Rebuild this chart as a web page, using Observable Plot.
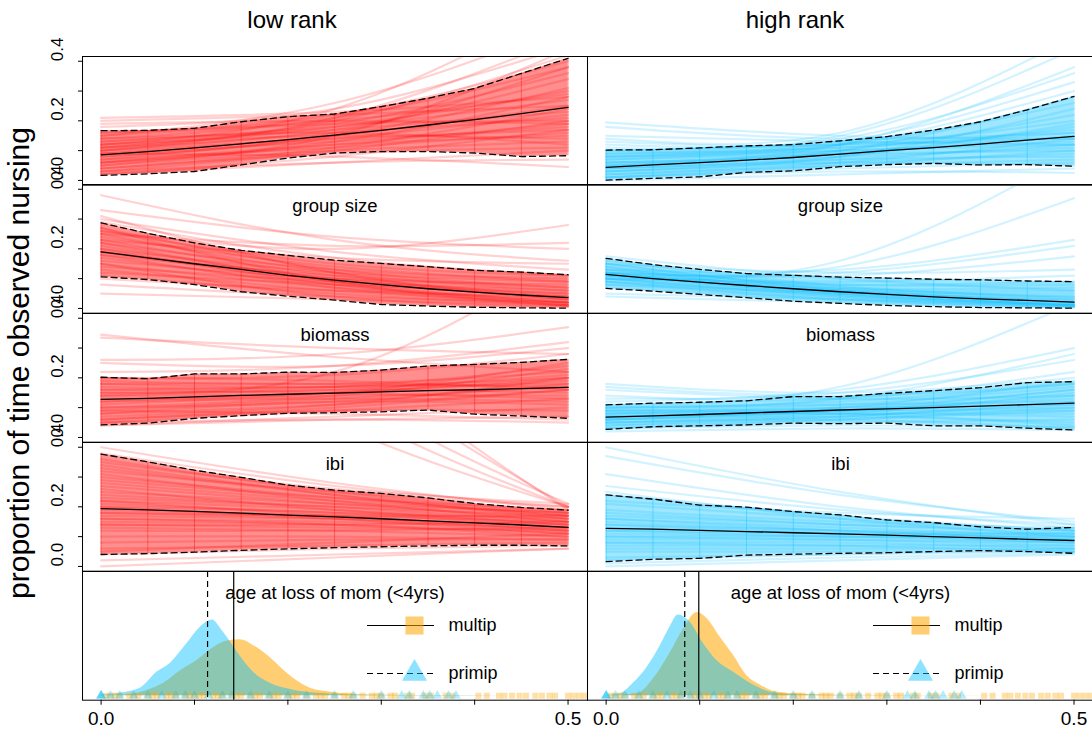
<!DOCTYPE html>
<html>
<head>
<meta charset="utf-8">
<script src="https://cdn.jsdelivr.net/npm/d3@7"></script>
<script src="https://cdn.jsdelivr.net/npm/@observablehq/plot@0.6"></script>
<style>
  html, body { margin: 0; padding: 0; background: #fff; }
  #fig { position: relative; width: 1092px; height: 738px; overflow: hidden; background: #fff;
         font-family: "Liberation Sans", Arial, Helvetica, sans-serif; }
</style>
</head>
<body>
<div id="fig"></div>
<script>
// ---------------------------------------------------------------------------
// Data: posterior predictions of the proportion of time observed nursing.
// Each sample is a posterior draw evaluated at x = 0, 0.25, 0.5; mean and
// 95% interval are evaluated on an 11-point grid.
// ---------------------------------------------------------------------------
const RANKS = ["low rank", "high rank"];
const PREDICTORS = [null, "group size", "biomass", "ibi"];
const SAMPLE_X = [0, 0.25, 0.5];
const GRID_X = [0, 0.05, 0.1, 0.15, 0.2, 0.25, 0.3, 0.35, 0.4, 0.45, 0.5];
const Y_TICKS = [0, 0.1, 0.2, 0.3, 0.4];
const Y_TICK_LABELS = [0, 0.2, 0.4];
const X_TICKS = [0, 0.1, 0.2, 0.3, 0.4, 0.5];
const X_TICK_LABELS = [0, 0.5];

// baseline (no predictor label)
const lowBaseMean = [0.086, 0.097, 0.109, 0.123, 0.137, 0.152, 0.168, 0.186, 0.204, 0.224, 0.245];
const lowBaseLo = [0.017, 0.022, 0.030, 0.052, 0.075, 0.092, 0.097, 0.097, 0.092, 0.080, 0.083];
const lowBaseHi = [0.167, 0.168, 0.175, 0.197, 0.214, 0.223, 0.248, 0.276, 0.309, 0.359, 0.410];
const lowBaseSamples = [
  [0.03,0.10,0.20],[0.04,0.11,0.24],[0.05,0.12,0.19],[0.06,0.13,0.28],[0.07,0.14,0.22],[0.08,0.15,0.31],
  [0.09,0.15,0.25],[0.10,0.16,0.21],[0.11,0.17,0.34],[0.12,0.17,0.23],[0.13,0.18,0.27],[0.14,0.19,0.36],
  [0.15,0.19,0.20],[0.16,0.20,0.29],[0.05,0.10,0.13],[0.07,0.11,0.16],[0.09,0.13,0.18],[0.06,0.12,0.15],
  [0.10,0.14,0.17],[0.12,0.15,0.14],[0.08,0.16,0.38],[0.11,0.18,0.30],[0.04,0.09,0.11],[0.13,0.16,0.12],
  [0.20,0.22,0.25],[0.21,0.23,0.28],[0.19,0.20,0.19],[0.18,0.24,0.45],[0.15,0.26,0.52],[0.12,0.24,0.60],
  [0.10,0.21,0.48],[0.02,0.06,0.10],[0.02,0.08,0.17],[0.09,0.08,0.045],[0.03,0.06,0.07],[0.16,0.22,0.40],
  [0.06,0.15,0.44],[0.14,0.21,0.38],[0.11,0.20,0.42]
];
const highBaseMean = [0.044, 0.052, 0.060, 0.068, 0.077, 0.088, 0.100, 0.110, 0.122, 0.135, 0.148];
const highBaseLo = [0.001, 0.007, 0.012, 0.027, 0.032, 0.046, 0.053, 0.057, 0.052, 0.053, 0.048];
const highBaseHi = [0.102, 0.103, 0.109, 0.116, 0.120, 0.133, 0.147, 0.169, 0.197, 0.237, 0.282];
const highBaseSamples = [
  [0.01,0.05,0.10],[0.02,0.06,0.14],[0.03,0.07,0.12],[0.04,0.08,0.19],[0.05,0.09,0.15],[0.06,0.10,0.22],
  [0.07,0.10,0.13],[0.08,0.11,0.17],[0.09,0.12,0.26],[0.10,0.12,0.14],[0.02,0.05,0.07],[0.03,0.06,0.09],
  [0.04,0.07,0.08],[0.05,0.08,0.11],[0.06,0.09,0.18],[0.07,0.09,0.10],[0.03,0.08,0.24],[0.08,0.10,0.12],
  [0.01,0.04,0.06],[0.05,0.10,0.28],[0.09,0.11,0.16],[0.04,0.06,0.05],
  [0.195,0.15,0.14],[0.18,0.14,0.16],[0.15,0.13,0.12],[0.13,0.12,0.20],[0.11,0.15,0.44],[0.12,0.14,0.36],
  [0.10,0.13,0.33],[0.08,0.12,0.30],[0.0,0.02,0.04],[0.01,0.03,0.025],[0.14,0.16,0.48],[0.06,0.12,0.38]
];

// group size
const lowGroupMean = [0.190, 0.170, 0.150, 0.131, 0.111, 0.095, 0.080, 0.066, 0.055, 0.045, 0.036];
const lowGroupLo = [0.106, 0.097, 0.080, 0.056, 0.041, 0.028, 0.013, 0.008, 0.004, 0.002, 0.001];
const lowGroupHi = [0.287, 0.252, 0.220, 0.195, 0.178, 0.162, 0.151, 0.140, 0.128, 0.122, 0.113];
const lowGroupSamples = [
  [0.11,0.05,0.01],[0.13,0.06,0.02],[0.15,0.07,0.03],[0.17,0.08,0.02],[0.19,0.09,0.04],[0.21,0.10,0.05],
  [0.23,0.11,0.04],[0.25,0.12,0.06],[0.27,0.13,0.07],[0.14,0.09,0.06],[0.16,0.10,0.08],[0.18,0.11,0.07],
  [0.20,0.12,0.09],[0.22,0.13,0.10],[0.24,0.14,0.09],[0.12,0.08,0.05],[0.18,0.07,0.01],[0.20,0.08,0.015],
  [0.22,0.09,0.02],[0.15,0.04,0.005],[0.26,0.15,0.11],[0.19,0.10,0.03],
  [0.38,0.23,0.16],[0.33,0.24,0.20],[0.30,0.19,0.13],[0.26,0.20,0.28],[0.25,0.21,0.22],[0.29,0.17,0.11],
  [0.05,0.03,0.01],[0.08,0.04,0.02],[0.10,0.06,0.04],[0.23,0.17,0.15],[0.31,0.12,0.03],[0.27,0.09,0.01]
];
const highGroupMean = [0.114, 0.100, 0.088, 0.077, 0.066, 0.056, 0.047, 0.039, 0.032, 0.027, 0.021];
const highGroupLo = [0.067, 0.058, 0.047, 0.036, 0.024, 0.017, 0.010, 0.006, 0.003, 0.002, 0.001];
const highGroupHi = [0.168, 0.147, 0.131, 0.117, 0.111, 0.105, 0.102, 0.098, 0.096, 0.092, 0.090];
const highGroupSamples = [
  [0.07,0.03,0.005],[0.08,0.035,0.01],[0.09,0.04,0.015],[0.10,0.045,0.02],[0.11,0.05,0.01],[0.12,0.055,0.025],
  [0.13,0.06,0.03],[0.14,0.065,0.02],[0.15,0.07,0.04],[0.16,0.075,0.035],[0.09,0.055,0.04],[0.10,0.06,0.05],
  [0.11,0.065,0.06],[0.12,0.07,0.07],[0.13,0.08,0.08],[0.08,0.05,0.03],[0.10,0.04,0.008],[0.12,0.045,0.012],
  [0.14,0.05,0.015],[0.11,0.08,0.09],[0.09,0.03,0.005],[0.15,0.06,0.01],
  [0.12,0.14,0.37],[0.10,0.16,0.52],[0.11,0.12,0.21],[0.13,0.13,0.23],[0.12,0.11,0.175],[0.15,0.12,0.13],
  [0.175,0.10,0.06],[0.04,0.02,0.003],[0.05,0.03,0.01],[0.10,0.09,0.11]
];

// biomass
const lowBiomassMean = [0.128, 0.131, 0.136, 0.141, 0.145, 0.149, 0.153, 0.157, 0.160, 0.164, 0.168];
const lowBiomassLo = [0.042, 0.048, 0.064, 0.073, 0.081, 0.083, 0.086, 0.092, 0.078, 0.072, 0.064];
const lowBiomassHi = [0.202, 0.197, 0.213, 0.213, 0.219, 0.218, 0.226, 0.240, 0.245, 0.252, 0.262];
const lowBiomassSamples = [
  [0.05,0.09,0.13],[0.06,0.10,0.16],[0.07,0.11,0.20],[0.08,0.12,0.11],[0.09,0.13,0.17],[0.10,0.14,0.23],
  [0.11,0.14,0.14],[0.12,0.15,0.19],[0.13,0.15,0.25],[0.14,0.16,0.15],[0.15,0.16,0.21],[0.16,0.17,0.18],
  [0.17,0.17,0.24],[0.18,0.18,0.17],[0.19,0.18,0.22],[0.20,0.19,0.16],[0.12,0.13,0.12],[0.14,0.15,0.20],
  [0.10,0.12,0.18],[0.16,0.15,0.13],[0.08,0.11,0.16],[0.18,0.17,0.20],[0.06,0.09,0.09],
  [0.345,0.27,0.22],[0.335,0.30,0.28],[0.26,0.28,0.37],[0.25,0.24,0.30],[0.15,0.22,0.60],[0.04,0.06,0.07],
  [0.04,0.07,0.10],[0.22,0.24,0.32],[0.20,0.21,0.28],[0.09,0.08,0.06],[0.05,0.06,0.05]
];
const highBiomassMean = [0.068, 0.072, 0.077, 0.082, 0.087, 0.092, 0.096, 0.100, 0.105, 0.110, 0.115];
const highBiomassLo = [0.027, 0.036, 0.039, 0.042, 0.048, 0.046, 0.048, 0.039, 0.039, 0.031, 0.025];
const highBiomassHi = [0.109, 0.115, 0.118, 0.123, 0.137, 0.137, 0.148, 0.157, 0.167, 0.184, 0.187];
const highBiomassSamples = [
  [0.03,0.05,0.06],[0.04,0.06,0.09],[0.05,0.07,0.12],[0.06,0.08,0.08],[0.07,0.09,0.14],[0.08,0.10,0.11],
  [0.09,0.10,0.16],[0.10,0.11,0.12],[0.05,0.08,0.15],[0.06,0.09,0.13],[0.07,0.08,0.07],[0.08,0.09,0.10],
  [0.04,0.07,0.11],[0.09,0.11,0.17],[0.10,0.12,0.18],[0.06,0.07,0.05],[0.03,0.06,0.10],[0.07,0.10,0.19],
  [0.08,0.08,0.04],[0.05,0.06,0.03],[0.09,0.09,0.09],[0.06,0.09,0.16],
  [0.18,0.15,0.20],[0.17,0.14,0.18],[0.16,0.13,0.14],[0.12,0.16,0.30],[0.11,0.17,0.45],[0.13,0.15,0.26],
  [0.10,0.13,0.28],[0.02,0.03,0.025],[0.14,0.13,0.22],[0.03,0.04,0.035]
];

// inter-birth interval
const lowIbiMean = [0.194, 0.190, 0.185, 0.179, 0.172, 0.166, 0.160, 0.153, 0.146, 0.139, 0.131];
const lowIbiLo = [0.040, 0.043, 0.048, 0.054, 0.059, 0.063, 0.066, 0.069, 0.071, 0.071, 0.069];
const lowIbiHi = [0.377, 0.351, 0.323, 0.299, 0.273, 0.256, 0.245, 0.230, 0.211, 0.198, 0.189];
const lowIbiSamples = [
  [0.13,0.12,0.10],[0.14,0.13,0.12],[0.15,0.14,0.11],[0.16,0.15,0.13],[0.17,0.16,0.14],[0.18,0.16,0.12],
  [0.19,0.17,0.15],[0.20,0.18,0.13],[0.21,0.18,0.16],[0.22,0.19,0.14],[0.23,0.20,0.17],[0.24,0.20,0.15],
  [0.25,0.21,0.18],[0.12,0.12,0.13],[0.14,0.14,0.15],[0.16,0.14,0.10],[0.18,0.17,0.17],[0.20,0.16,0.11],
  [0.22,0.17,0.12],[0.10,0.10,0.09],[0.08,0.09,0.09],[0.27,0.21,0.16],[0.30,0.23,0.17],[0.33,0.24,0.17],
  [0.06,0.07,0.08],
  [0.40,0.28,0.19],[0.38,0.27,0.20],[0.36,0.25,0.18],[0.35,0.26,0.21],[0.31,0.22,0.15],[0.29,0.23,0.19],
  [0.34,0.24,0.16],[0.32,0.25,0.20],[0.28,0.22,0.18],[0.26,0.19,0.14],
  [0.04,0.06,0.07],[0.02,0.04,0.06],[0.00,0.03,0.06],[0.05,0.08,0.11],
  [0.9,0.48,0.20],[1.1,0.55,0.20],[1.3,0.62,0.21],[1.5,0.72,0.20],[1.8,0.80,0.19]
];
const highIbiMean = [0.128, 0.125, 0.121, 0.117, 0.113, 0.109, 0.105, 0.100, 0.096, 0.091, 0.087];
const highIbiLo = [0.016, 0.024, 0.027, 0.038, 0.041, 0.044, 0.046, 0.050, 0.053, 0.050, 0.044];
const highIbiHi = [0.240, 0.226, 0.206, 0.199, 0.184, 0.173, 0.156, 0.147, 0.133, 0.125, 0.131];
const highIbiSamples = [
  [0.05,0.05,0.05],[0.06,0.06,0.06],[0.07,0.07,0.07],[0.08,0.08,0.06],[0.09,0.09,0.08],[0.10,0.09,0.07],
  [0.11,0.10,0.09],[0.12,0.10,0.08],[0.13,0.11,0.10],[0.14,0.12,0.09],[0.15,0.12,0.11],[0.16,0.13,0.10],
  [0.17,0.14,0.12],[0.18,0.14,0.11],[0.19,0.15,0.13],[0.12,0.11,0.11],[0.10,0.10,0.10],[0.14,0.11,0.08],
  [0.08,0.07,0.05],[0.16,0.12,0.09],[0.21,0.16,0.12],[0.03,0.04,0.05],
  [0.40,0.25,0.14],[0.37,0.24,0.15],[0.31,0.20,0.13],[0.27,0.19,0.14],[0.24,0.17,0.12],[0.22,0.18,0.16],
  [0.01,0.03,0.045],[0.0,0.02,0.04],[0.02,0.04,0.06],[0.25,0.16,0.10]
];

// age at loss of mom (<4yrs): posterior densities [x, density]
const lowMultipDensity = [[0,0.02],[0.031,0.1],[0.05,0.45],[0.067,1.0],[0.085,2.0],[0.103,2.85],[0.121,3.9],
  [0.135,4.4],[0.149,4.5],[0.163,4.05],[0.178,3.25],[0.192,2.3],[0.206,1.4],[0.224,0.6],[0.249,0.25],
  [0.281,0.05],[0.33,0.02],[0.52,0.0]];
const lowPrimipDensity = [[0,0.05],[0.02,0.2],[0.042,0.6],[0.06,1.9],[0.074,2.6],[0.092,4.2],[0.106,5.5],
  [0.119,6.1],[0.131,5.1],[0.146,3.5],[0.163,1.9],[0.181,1.0],[0.206,0.45],[0.235,0.18],[0.27,0.06],
  [0.32,0.02],[0.52,0.0]];
const highMultipDensity = [[0,0.01],[0.033,0.15],[0.051,1.4],[0.068,3.4],[0.083,5.4],[0.097,6.7],[0.108,6.2],
  [0.122,4.7],[0.136,3.25],[0.15,1.65],[0.165,0.85],[0.179,0.35],[0.2,0.15],[0.25,0.03],[0.52,0.0]];
const highPrimipDensity = [[0,0.02],[0.015,0.15],[0.029,1.0],[0.043,2.2],[0.058,4.05],[0.068,5.5],[0.077,6.5],
  [0.09,5.9],[0.104,4.2],[0.118,2.85],[0.136,1.9],[0.154,1.0],[0.175,0.3],[0.2,0.08],[0.25,0.02],[0.52,0.0]];
// posterior medians per rank [low, high]
const multipMedian = [0.142, 0.099];
const primipMedian = [0.114, 0.084];
// observed ages at loss of mom (rug)
const multipAges = [0.005,0.01,0.015,0.02,0.03,0.035,0.04,0.05,0.055,0.06,0.07,0.075,0.08,0.09,0.095,0.1,
  0.105,0.11,0.12,0.125,0.13,0.14,0.145,0.15,0.16,0.165,0.17,0.18,0.185,0.19,0.2,0.205,0.21,0.22,0.23,
  0.235,0.24,0.25,0.26,0.265,0.27,0.28,0.29,0.295,0.3,0.31,0.315,0.328,0.333,0.347,0.353,0.369,0.376,
  0.404,0.413,0.426,0.432,0.44,0.448,0.455,0.465,0.472,0.48,0.486,0.5,0.506,0.512,0.518];
const primipAges = [0,0,0,0.01,0.02,0.035,0.05,0.065,0.08,0.09,0.1,0.115,0.13,0.14,0.16,0.18,0.2,0.22,
  0.25,0.27,0.3,0.322,0.33,0.345,0.352,0.36,0.372,0.38];
const LEGEND_KEYS = ["multip", "primip"];

// ---------------------------------------------------------------------------
// Layout
// ---------------------------------------------------------------------------
const FONT = '"Liberation Sans", Arial, Helvetica, sans-serif';
const W = 505, H = 128.7, LEFT = 82, TOP = 55.7, PAD = 22;
const X_DOMAIN = [-0.0199, 0.5208];
const Y_DOMAIN = [-0.016, 0.416];
const DENS_DOMAIN = [-0.36, 10];
const RANK_COLORS = ["#ff0000", "#00bfff"];
const ORANGE = "#ffa500", SKY = "#00bfff";

const fig = document.getElementById("fig");
function place(node, left, top) {
  node.style.position = "absolute";
  node.style.left = left + "px";
  node.style.top = top + "px";
  fig.appendChild(node);
}

const curvePanels = [
  [{samples: lowBaseSamples, mean: lowBaseMean, lo: lowBaseLo, hi: lowBaseHi},
   {samples: highBaseSamples, mean: highBaseMean, lo: highBaseLo, hi: highBaseHi}],
  [{samples: lowGroupSamples, mean: lowGroupMean, lo: lowGroupLo, hi: lowGroupHi},
   {samples: highGroupSamples, mean: highGroupMean, lo: highGroupLo, hi: highGroupHi}],
  [{samples: lowBiomassSamples, mean: lowBiomassMean, lo: lowBiomassLo, hi: lowBiomassHi},
   {samples: highBiomassSamples, mean: highBiomassMean, lo: highBiomassLo, hi: highBiomassHi}],
  [{samples: lowIbiSamples, mean: lowIbiMean, lo: lowIbiLo, hi: lowIbiHi},
   {samples: highIbiSamples, mean: highIbiMean, lo: highIbiLo, hi: highIbiHi}]
];

curvePanels.forEach((pair, r) => {
  pair.forEach((p, c) => {
    const color = RANK_COLORS[c];
    const ml = c === 0 ? LEFT : 0;
    const w = c === 0 ? W : W + 1;
    const lines = p.samples.flatMap((s, i) => s.map((v, j) => ({id: i, x: SAMPLE_X[j], y: v})));
    const band = GRID_X.map((x, i) => ({x, lo: p.lo[i], hi: p.hi[i], mean: p.mean[i]}));
    const marks = [
      Plot.areaY(band, {x: "x", y1: "lo", y2: "hi", fill: color, fillOpacity: c === 0 ? 0.44 : 0.38}),
      Plot.line(lines, {x: "x", y: "y", z: "id", curve: "natural", stroke: color,
                        strokeOpacity: 0.18, strokeWidth: 2.2, clip: true}),
      Plot.ruleX(band, {x: "x", y1: "lo", y2: "hi", stroke: color, strokeOpacity: 0.4}),
      Plot.line(band, {x: "x", y: "mean", stroke: "black", strokeWidth: 1.3}),
      Plot.line(band, {x: "x", y: "lo", stroke: "black", strokeWidth: 1.3, strokeDasharray: "6,4"}),
      Plot.line(band, {x: "x", y: "hi", stroke: "black", strokeWidth: 1.3, strokeDasharray: "6,4"}),
      Plot.frame({stroke: "black"})
    ];
    if (PREDICTORS[r]) {
      marks.push(Plot.text([PREDICTORS[r]], {frameAnchor: "top", dy: 27.5, lineAnchor: "bottom",
        text: d => d, fontSize: 18.5, fill: "black"}));
    }
    if (c === 0) {
      marks.push(Plot.text(Y_TICK_LABELS, {frameAnchor: "left", y: d => d, text: d => d.toFixed(1),
        rotate: -90, dx: -25, fontSize: 17, fill: "black"}));
    }
    const svg = Plot.plot({
      width: w + ml, height: H + 2 * PAD,
      marginLeft: ml, marginRight: 0, marginTop: PAD, marginBottom: PAD,
      style: {background: "transparent", overflow: "visible", fontFamily: FONT, color: "black"},
      x: {domain: X_DOMAIN, axis: null},
      y: {domain: Y_DOMAIN, axis: c === 0 ? "left" : null, ticks: Y_TICKS, tickSize: 4,
          tickFormat: () => "", label: null},
      marks
    });
    place(svg, LEFT + c * W - ml, TOP + r * H - PAD);
  });
});

// bottom row: densities of age at loss of mom
const densities = [
  {multip: lowMultipDensity, primip: lowPrimipDensity},
  {multip: highMultipDensity, primip: highPrimipDensity}
];
densities.forEach((d, c) => {
  const ml = c === 0 ? LEFT : 0;
  const w = c === 0 ? W : W + 1;
  const multip = d.multip.map(([x, v]) => ({x, v}));
  const primip = d.primip.map(([x, v]) => ({x, v}));
  const svg = Plot.plot({
    width: w + ml, height: H + PAD + 40,
    marginLeft: ml, marginRight: 0, marginTop: PAD, marginBottom: 40,
    style: {background: "transparent", overflow: "visible", fontFamily: FONT, color: "black"},
    x: {domain: X_DOMAIN, ticks: X_TICKS, tickSize: 5, tickFormat: () => "", label: null},
    y: {domain: DENS_DOMAIN, axis: null},
    marks: [
      Plot.areaY(multip, {x: "x", y: "v", curve: "monotone-x", fill: ORANGE, fillOpacity: 0.55}),
      Plot.areaY(primip, {x: "x", y: "v", curve: "monotone-x", fill: SKY, fillOpacity: 0.45}),
      Plot.dot(multipAges, {x: d => d, y: 0, symbol: "square", r: 3.4, fill: ORANGE, fillOpacity: 0.35}),
      Plot.dot(primipAges, {x: d => d, y: 0, symbol: "triangle", r: 3.6, fill: SKY, fillOpacity: 0.3}),
      Plot.ruleX([multipMedian[c]], {stroke: "black", strokeWidth: 1.2}),
      Plot.ruleX([primipMedian[c]], {stroke: "black", strokeWidth: 1.2, strokeDasharray: "6,4"}),
      Plot.text(["age at loss of mom (<4yrs)"], {frameAnchor: "top", dy: 27.5, lineAnchor: "bottom",
        text: t => t, fontSize: 18.5, fill: "black"}),
      Plot.text(X_TICK_LABELS, {x: v => v, frameAnchor: "bottom", dy: 19, lineAnchor: "middle",
        text: v => v.toFixed(1), fontSize: 19, fill: "black"}),
      Plot.frame({stroke: "black"})
    ]
  });
  place(svg, LEFT + c * W - ml, TOP + 4 * H - PAD);

  // legend: line type + symbol per parity
  const legend = Plot.plot({
    width: 150, height: 80, margin: 0,
    style: {background: "transparent", overflow: "visible", fontFamily: FONT, color: "black"},
    x: {type: "identity", axis: null},
    y: {type: "point", domain: LEGEND_KEYS, range: [13.5, 62], padding: 0, axis: null},
    marks: [
      Plot.ruleY([LEGEND_KEYS[0]], {y: k => k, x1: 0, x2: 67, stroke: "black", strokeWidth: 1.2}),
      Plot.ruleY([LEGEND_KEYS[1]], {y: k => k, x1: 0, x2: 67, stroke: "black", strokeWidth: 1.2, strokeDasharray: "6,4"}),
      Plot.dot([LEGEND_KEYS[0]], {y: k => k, x: 47, symbol: "square", r: 10.2, fill: ORANGE, fillOpacity: 0.55}),
      Plot.dot([LEGEND_KEYS[1]], {y: k => k, x: 47, symbol: "triangle", r: 9.3, fill: SKY, fillOpacity: 0.45}),
      Plot.text(LEGEND_KEYS, {y: k => k, x: 81, text: k => k, textAnchor: "start", fontSize: 18, fill: "black"})
    ]
  });
  place(legend, 367 + c * 506, 611);
});

// titles and shared y label
const overlay = d3.create("svg")
  .attr("width", 1092).attr("height", 738)
  .style("position", "absolute").style("left", "0px").style("top", "0px")
  .style("pointer-events", "none")
  .attr("font-family", FONT);
overlay.selectAll("text.rank").data(RANKS).join("text")
  .attr("class", "rank")
  .attr("x", (d, i) => 292 + i * 503)
  .attr("y", 28)
  .attr("text-anchor", "middle")
  .attr("font-size", 24)
  .text(d => d);
overlay.append("text")
  .attr("transform", "translate(29,363) rotate(-90)")
  .attr("text-anchor", "middle")
  .attr("font-size", 30)
  .text("proportion of time observed nursing");
fig.appendChild(overlay.node());
</script>
</body>
</html>
